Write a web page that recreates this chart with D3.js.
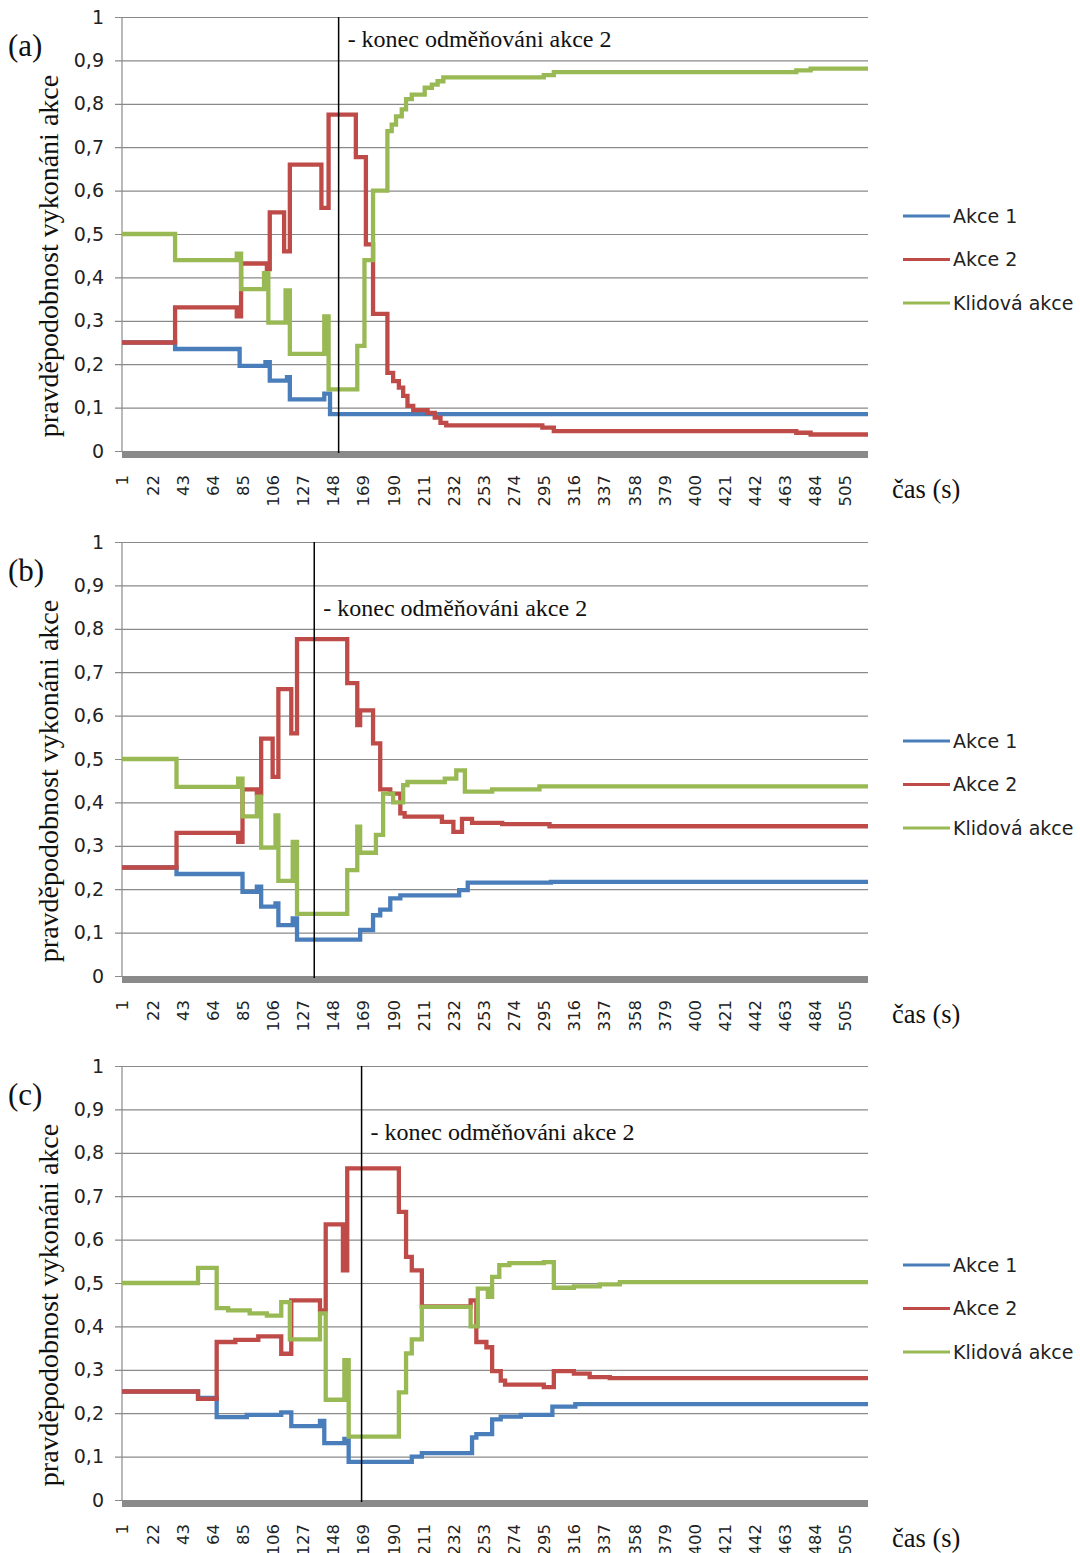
<!DOCTYPE html>
<html>
<head>
<meta charset="utf-8">
<script src="https://cdn.jsdelivr.net/npm/d3@7"></script>
<style>
  body { margin: 0; background: #fff; }
  .serif { font-family: "Liberation Serif", "Times New Roman", serif; fill: #111; }
  .sans { font-family: "DejaVu Sans", sans-serif; fill: #222; }
</style>
</head>
<body>
<svg id="chart" width="1080" height="1553"></svg>
<script>
// names / colours of the three actions
const seriesNames = ["Akce 1", "Akce 2", "Klidová akce"];
const seriesColors = ["#4a7ebb", "#be4b48", "#98b954"];

const yTicks = [0, 0.1, 0.2, 0.3, 0.4, 0.5, 0.6, 0.7, 0.8, 0.9, 1];
const xTicks = [1, 22, 43, 64, 85, 106, 127, 148, 169, 190, 211, 232, 253,
                274, 295, 316, 337, 358, 379, 400, 421, 442, 463, 484, 505];
const lastTime = 521;

const panelLabels = ["(a)", "(b)", "(c)"];
const rewardEnd = [152, 135, 168];   // vertical line: end of reward for action 2

// [time, probability] at every change, value holds until the next change
const akce1A = [[1,0.25],[38,0.235],[83,0.196],[101,0.205],[104,0.162],[116,0.17],[118,0.119],
  [142,0.132],[146,0.085]];
const akce2A = [[1,0.25],[38,0.331],[81,0.31],[84,0.432],[102,0.419],[104,0.55],[114,0.46],
  [118,0.66],[140,0.56],[145,0.775],[164,0.677],[171,0.476],[176,0.316],[186,0.18],[190,0.161],
  [194,0.146],[197,0.127],[200,0.104],[204,0.094],[214,0.088],[219,0.077],[223,0.065],
  [227,0.059],[294,0.054],[302,0.046],[471,0.042],[481,0.038]];
const klidA = [[1,0.5],[38,0.44],[81,0.455],[84,0.373],[100,0.41],[103,0.296],[115,0.37],
  [118,0.224],[142,0.31],[145,0.142],[165,0.242],[170,0.44],[176,0.6],[186,0.737],[189,0.752],
  [192,0.771],[196,0.787],[199,0.811],[203,0.821],[212,0.837],[217,0.844],[221,0.852],
  [225,0.861],[295,0.866],[302,0.873],[471,0.877],[481,0.881]];

const akce1B = [[1,0.25],[39,0.235],[85,0.194],[95,0.206],[98,0.16],[108,0.167],[110,0.117],
  [120,0.133],[123,0.084],[167,0.106],[176,0.14],[181,0.153],[188,0.179],[195,0.186],
  [236,0.198],[242,0.215],[300,0.217]];
const akce2B = [[1,0.25],[39,0.33],[82,0.309],[85,0.43],[95,0.42],[98,0.547],[106,0.459],
  [110,0.661],[119,0.559],[123,0.776],[158,0.675],[165,0.578],[167,0.612],[176,0.536],
  [181,0.43],[188,0.42],[195,0.375],[198,0.367],[224,0.355],[232,0.332],[238,0.362],
  [245,0.353],[266,0.35],[299,0.345]];
const klidB = [[1,0.5],[39,0.436],[82,0.455],[85,0.368],[95,0.413],[98,0.296],[108,0.37],
  [110,0.219],[120,0.309],[123,0.143],[158,0.244],[165,0.344],[167,0.284],[178,0.325],
  [183,0.42],[190,0.4],[197,0.44],[200,0.447],[226,0.455],[234,0.474],[240,0.425],
  [259,0.43],[292,0.437]];

const akce1C = [[1,0.25],[54,0.235],[67,0.191],[88,0.196],[112,0.202],[119,0.17],[139,0.182],
  [142,0.131],[156,0.141],[159,0.088],[203,0.1],[210,0.108],[245,0.144],[248,0.152],
  [259,0.186],[265,0.192],[279,0.196],[301,0.215],[317,0.221]];
const akce2C = [[1,0.25],[54,0.233],[67,0.364],[80,0.369],[96,0.377],[112,0.337],[119,0.46],
  [139,0.437],[143,0.635],[155,0.529],[158,0.764],[194,0.664],[199,0.56],[203,0.529],
  [210,0.446],[244,0.46],[248,0.364],[255,0.352],[259,0.297],[265,0.275],[268,0.266],
  [295,0.26],[302,0.297],[316,0.291],[327,0.283],[341,0.281]];
const klidC = [[1,0.5],[54,0.535],[67,0.442],[75,0.437],[90,0.43],[102,0.425],[112,0.456],
  [118,0.37],[139,0.43],[143,0.231],[156,0.322],[159,0.146],[194,0.248],[199,0.338],
  [203,0.37],[210,0.445],[244,0.4],[249,0.487],[256,0.468],[259,0.514],[264,0.541],
  [271,0.546],[295,0.548],[302,0.489],[316,0.492],[334,0.497],[348,0.502]];

const panelSeries = [
  [akce1A, akce2A, klidA],
  [akce1B, akce2B, klidB],
  [akce1C, akce2C, klidC]
];

const svg = d3.select("#chart");
const plotLeft = 122, plotRight = 868, plotH = 434;
const panelTops = [17, 542, 1066];

const x = d3.scaleLinear().domain([1, lastTime]).range([plotLeft, plotRight]);

function drawPanel(i) {
    const top = panelTops[i];
    const y = d3.scaleLinear().domain([0, 1]).range([top + plotH, top]);
    const g = svg.append("g");

    // grid lines + y labels
    const yAxis = d3.axisLeft(y)
        .tickValues(yTicks)
        .tickSize(-(plotRight - 115))
        .tickPadding(11)
        .tickFormat(d => d3.format("")(d).replace(".", ","));
    const ya = g.append("g").attr("transform", "translate(115,0)").call(yAxis);
    ya.select(".domain").remove();
    ya.selectAll("line").attr("stroke", "#8a8a8a").attr("stroke-width", 1.2);
    ya.selectAll("text").style("font-size", "19px")
        .style("font-family", "DejaVu Sans, sans-serif").attr("fill", "#222");

    g.append("line")
        .attr("x1", plotLeft).attr("x2", plotLeft)
        .attr("y1", y(1)).attr("y2", y(0))
        .attr("stroke", "#8a8a8a").attr("stroke-width", 1.2);

    // grey floor of the x axis
    g.append("rect")
        .attr("x", plotLeft).attr("y", y(0))
        .attr("width", plotRight - plotLeft).attr("height", 7)
        .attr("fill", "#8a8a8a");

    // x labels
    const xAxis = d3.axisBottom(x).tickValues(xTicks).tickSize(0).tickPadding(0);
    const xa = g.append("g").attr("transform", `translate(0,${y(0) + 22})`).call(xAxis);
    xa.select(".domain").remove();
    xa.selectAll("text")
        .attr("transform", "rotate(-90)")
        .attr("text-anchor", "end")
        .attr("x", -2).attr("y", 0).attr("dy", "0.36em")
        .style("font-size", "16.5px").style("font-family", "DejaVu Sans, sans-serif")
        .attr("fill", "#222");

    // series
    const line = d3.line()
        .x(d => x(d[0]))
        .y(d => y(d[1]))
        .curve(d3.curveStepAfter);
    panelSeries[i].forEach((s, k) => {
        const pts = s.concat([[lastTime, s[s.length - 1][1]]]);
        g.append("path")
            .datum(pts)
            .attr("d", line)
            .attr("fill", "none")
            .attr("stroke", seriesColors[k])
            .attr("stroke-width", 4.3)
            .attr("stroke-linejoin", "miter");
    });

    // end of reward marker
    g.append("line")
        .attr("x1", x(rewardEnd[i])).attr("x2", x(rewardEnd[i]))
        .attr("y1", y(1)).attr("y2", y(0) + 2)
        .attr("stroke", "#000").attr("stroke-width", 1.5);
    const noteY = i === 0 ? y(1) + 30 : y(1) + 74;
    g.append("text").attr("class", "serif")
        .attr("x", x(rewardEnd[i]) + 9).attr("y", noteY)
        .style("font-size", "24px")
        .text("- konec odměňováni akce 2");

    // panel letter, axis titles
    g.append("text").attr("class", "serif")
        .attr("x", 8).attr("y", top + 39)
        .style("font-size", "31px")
        .text(panelLabels[i]);
    g.append("text").attr("class", "serif")
        .attr("transform", `translate(58,${top + plotH / 2 + 22}) rotate(-90)`)
        .attr("text-anchor", "middle")
        .style("font-size", "28px")
        .text("pravděpodobnost vykonáni akce");
    g.append("text").attr("class", "serif")
        .attr("x", 892).attr("y", y(0) + 47)
        .style("font-size", "26.5px")
        .text("čas (s)");

    // legend
    const leg = g.append("g").attr("transform", `translate(903,${y(0) - 235})`);
    seriesNames.forEach((name, k) => {
        const row = leg.append("g").attr("transform", `translate(0,${k * 43.5})`);
        row.append("line").attr("x1", 0).attr("x2", 47)
            .attr("stroke", seriesColors[k]).attr("stroke-width", 3);
        row.append("text").attr("class", "sans")
            .attr("x", 50).attr("y", 0).attr("dy", "0.35em")
            .style("font-size", "19px")
            .text(name);
    });
}

[0, 1, 2].forEach(drawPanel);
</script>
</body>
</html>
